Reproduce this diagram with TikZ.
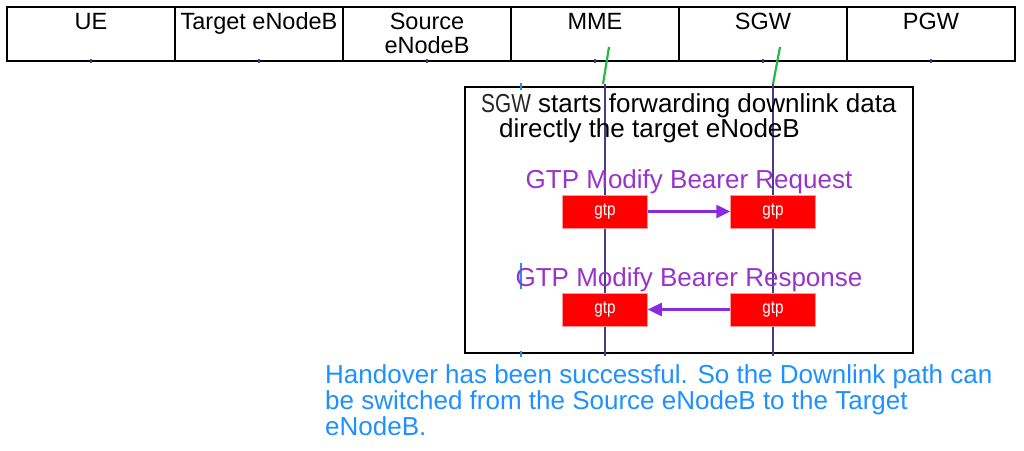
\documentclass[tikz,border=0pt]{standalone}
\usepackage{fontspec}
\setmainfont{Liberation Sans}
\usetikzlibrary{arrows.meta}
\definecolor{lifec}{HTML}{483D8B}
\definecolor{gtpred}{HTML}{FF0000}
\definecolor{msgpurple}{HTML}{9933CC}
\definecolor{arrpurple}{HTML}{8A2BE2}
\definecolor{noteblue}{HTML}{1E90FF}
\definecolor{greenl}{HTML}{22B84A}
\tikzset{
  cell/.style={draw=black, line width=2.5pt, minimum width=168pt, minimum height=54pt, inner sep=0pt, outer sep=0pt},
  hdr/.style={font=\fontsize{23.5}{24}\selectfont, inner sep=0pt, anchor=base},
  life/.style={draw=lifec, line width=1.8pt},
  gtpbox/.style={fill=gtpred, draw=red!40, line width=0.5pt, minimum width=85pt, minimum height=33pt, inner sep=0pt, text=white, font=\fontsize{18}{18}\selectfont},
  msg/.style={font=\fontsize{26}{26}\selectfont, text=msgpurple, inner sep=0pt, anchor=base},
  msgarrow/.style={draw=arrpurple, line width=2.5pt, -{Triangle[length=14pt,width=13pt]}},
  boxtext/.style={font=\fontsize{26}{26}\selectfont, inner sep=0pt, anchor=base west},
  note/.style={font=\fontsize{26}{26}\selectfont, text=noteblue, inner sep=0pt, anchor=base west},
  tick/.style={draw=noteblue, line width=2.5pt},
  stub/.style={draw=greenl, line width=2.2pt},
  htick/.style={draw=lifec, line width=1.2pt}
}
\begin{document}
\begin{tikzpicture}[x=1pt,y=-1pt]
\useasboundingbox (0,0) rectangle (1024,450);
% header cells
\node[cell] (cue) at (91,34) {};
\node[cell] (ctgt) at (259,34) {};
\node[cell] (csrc) at (427,34) {};
\node[cell] (cmme) at (595,34) {};
\node[cell] (csgw) at (763,34) {};
\node[cell] (cpgw) at (931,34) {};
\node[hdr] (tue) at (91,29) {UE};
\node[hdr] (ttgt) at (259,29) {Target eNodeB};
\node[hdr] (tsrc1) at (427,29) {Source};
\node[hdr] (tsrc2) at (427,53) {eNodeB};
\node[hdr] (tmme) at (595,29) {MME};
\node[hdr] (tsgw) at (763,29) {SGW};
\node[hdr] (tpgw) at (931,29) {PGW};
% small ticks under header
\foreach \xx/\nm in {91/a,259/b,427/c,595/d,763/e,931/f}{
  \coordinate (ht\nm1) at (\xx,59);
  \coordinate (ht\nm2) at (\xx,63);
  \draw[htick] (ht\nm1) -- (ht\nm2);
}
% green stubs
\coordinate (g1a) at (609,47); \coordinate (g1b) at (603,84);
\coordinate (g2a) at (780,47); \coordinate (g2b) at (773,84);
\draw[stub] (g1a) -- (g1b);
\draw[stub] (g2a) -- (g2b);
% frame
\coordinate (fr1) at (465,87); \coordinate (fr2) at (913,353);
\draw[line width=2.5pt] (fr1) rectangle (fr2);
% lifelines
\coordinate (mmetop) at (605,84); \coordinate (mmebot) at (605,356);
\coordinate (sgwtop) at (773,84); \coordinate (sgwbot) at (773,356);
\draw[life] (mmetop) -- (mmebot);
\draw[life] (sgwtop) -- (sgwbot);
% blue ticks
\coordinate (b1a) at (521,83); \coordinate (b1b) at (521,90);
\coordinate (b2a) at (521,263); \coordinate (b2b) at (521,289);
\coordinate (b3a) at (521,351); \coordinate (b3b) at (521,357);
\draw[tick] (b1a) -- (b1b);
\draw[tick] (b2a) -- (b2b);
\draw[tick] (b3a) -- (b3b);
% frame text
\node[boxtext] (bt1) at (481,112) {\textcolor{black!85}{\scalebox{0.8}[1]{SGW}} starts forwarding downlink data};
\node[boxtext] (bt2) at (499,137) {directly the target eNodeB};
% messages
\node[msg] (m1) at (689,188) {GTP Modify Bearer Request};
\node[gtpbox] (g1) at (605,211.5) {\scalebox{0.85}[1]{gtp}};
\node[gtpbox] (g2) at (773,211.5) {\scalebox{0.85}[1]{gtp}};
\draw[msgarrow] (g1.east) -- (g2.west);
\node[msg] (m2) at (689,286.5) {GTP Modify Bearer Response};
\node[gtpbox] (g3) at (605,309.5) {\scalebox{0.85}[1]{gtp}};
\node[gtpbox] (g4) at (773,309.5) {\scalebox{0.85}[1]{gtp}};
\draw[msgarrow] (g4.west) -- (g3.east);
% note
\node[note] (n1) at (325,383) {Handover has been successful. So the Downlink path can};
\node[note] (n2) at (325,409) {be switched from the Source eNodeB to the Target};
\node[note] (n3) at (325,435) {eNodeB.};
\end{tikzpicture}
\end{document}
